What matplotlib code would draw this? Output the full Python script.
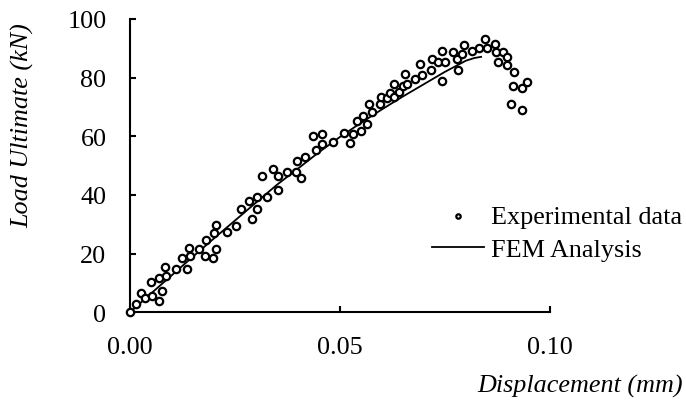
import numpy as np
import matplotlib
matplotlib.use('Agg')
import matplotlib.pyplot as plt

plt.rcParams['font.family'] = ['Liberation Serif', 'DejaVu Serif']

FONT_SIZE = 18.8

# experimental points
exp_disp = [0.0000, 0.00143, 0.00255, 0.0035, 0.00517, 0.00507, 0.00698, 0.0069,
            0.00769, 0.00826, 0.00864, 0.01095, 0.01238, 0.0135, 0.01398, 0.01436,
            0.01643, 0.01779, 0.01817, 0.01976, 0.02007, 0.0204, 0.02048, 0.02317,
            0.02531, 0.02636, 0.0284, 0.02898, 0.03031, 0.03031, 0.03255, 0.03143,
            0.03412, 0.03524, 0.03524, 0.03731, 0.03952, 0.03983, 0.04079, 0.0416,
            0.0435, 0.04429, 0.04571, 0.04564, 0.04826, 0.05102, 0.05238, 0.0531,
            0.05398, 0.055, 0.05555, 0.05636, 0.05698, 0.05769, 0.05952, 0.05969,
            0.06112, 0.0619, 0.06293, 0.06293, 0.06398, 0.065, 0.06555, 0.06602,
            0.06793, 0.06905, 0.06952, 0.07167, 0.0719, 0.0734, 0.07421, 0.07429,
            0.07507, 0.07683, 0.07779, 0.0781, 0.07905, 0.07952, 0.08143, 0.08302,
            0.0846, 0.08493, 0.08683, 0.08714, 0.08762, 0.08874, 0.08983, 0.08983,
            0.09143, 0.09119, 0.09333, 0.09445, 0.09064, 0.0934]
exp_load = [0.0, 2.7, 6.6, 4.8, 5.5, 10.4, 3.75, 11.7,
            7.4, 15.5, 12.3, 14.8, 18.6, 14.9, 22.0, 19.2,
            21.7, 19.1, 24.5, 18.5, 26.9, 29.9, 21.7, 27.5,
            29.4, 35.3, 38.0, 31.7, 39.4, 35.1, 39.2, 46.5,
            48.9, 46.4, 41.6, 47.7, 47.7, 51.5, 45.7, 52.9,
            60.2, 55.4, 60.8, 57.5, 58.0, 61.1, 57.7, 60.8,
            65.3, 61.8, 67.0, 64.2, 71.0, 68.4, 71.0, 73.5,
            73.0, 74.7, 73.5, 77.7, 75.0, 77.2, 81.1, 77.9,
            79.4, 84.7, 80.9, 82.7, 86.3, 85.2, 79.0, 89.2,
            85.4, 88.7, 86.4, 82.6, 88.2, 91.2, 89.0, 90.0,
            93.1, 90.2, 91.4, 88.7, 85.4, 88.6, 87.1, 84.4,
            81.9, 77.3, 76.6, 78.6, 71.1, 68.9]

# FEM curve
fem_disp = [0, 0.005, 0.010, 0.015, 0.020, 0.025, 0.030, 0.035, 0.040, 0.045,
            0.050, 0.055, 0.060, 0.065, 0.070, 0.075, 0.080, 0.082, 0.0836]
fem_load = [0, 6.4, 12.7, 19.0, 25.2, 31.3, 37.4, 43.5, 49.0, 54.6,
            59.8, 64.6, 69.2, 73.6, 77.8, 82.0, 85.8, 86.7, 87.1]

fig = plt.figure(figsize=(6.86, 4.06), dpi=100)
ax = fig.add_axes([130/686, 1-313.3/406, 420/686, 293.3/406])

ax.scatter(exp_disp, exp_load, s=28, facecolor='white', edgecolor='black',
           linewidth=1.6, zorder=3, clip_on=False, label='Experimental data')
ax.plot(fem_disp, fem_load, color='black', linewidth=1.3, zorder=2, label='FEM Analysis')

ax.set_xlim(0, 0.10)
ax.set_ylim(0, 100)
ax.set_xticks([0.00, 0.05, 0.10])
ax.set_xticklabels(['0.00', '0.05', '0.10'])
ax.set_yticks([0, 20, 40, 60, 80, 100])

for s in ['top', 'right']:
    ax.spines[s].set_visible(False)
for s in ['left', 'bottom']:
    ax.spines[s].set_linewidth(1.5)

ax.tick_params(axis='both', direction='in', length=4.5, width=1.5, labelsize=FONT_SIZE)
ax.tick_params(axis='x', pad=17)
ax.tick_params(axis='y', pad=17)

fig.text(23/686, 1-126/406, 'Load Ultimate (kN)', rotation=90, style='italic',
         fontsize=FONT_SIZE, ha='center', va='center')
fig.text(580/686, 1-386/406, 'Displacement (mm)', style='italic',
         fontsize=FONT_SIZE, ha='center', va='center')

ax.legend(loc='upper left', bbox_to_anchor=(432/686, 1-206/406),
          bbox_transform=fig.transFigure, frameon=False, fontsize=FONT_SIZE,
          handlelength=2.0, handletextpad=0.25, labelspacing=0.35,
          borderpad=0, borderaxespad=0, markerscale=0.6)

fig.savefig('out.png', dpi=100)
